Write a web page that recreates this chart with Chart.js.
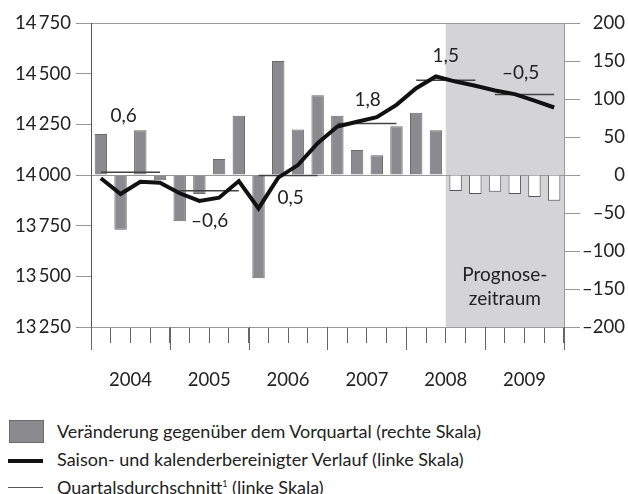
<!DOCTYPE html>
<html>
<head>
<meta charset="utf-8">
<script src="https://cdn.jsdelivr.net/npm/chart.js@4"></script>
<style>
  html, body { margin: 0; padding: 0; background: #fff; }
  #wrap { position: relative; width: 628px; height: 494px; overflow: hidden; font-family: Lato, sans-serif; color: #222; }
  #c { position: absolute; left: 0; top: 0; }
  .lg { position: absolute; left: 57px; font-size: 18px; line-height: 24px; white-space: nowrap; }
  .sw { position: absolute; }
</style>
</head>
<body>
<div id="wrap">
  <canvas id="c" width="628" height="400"></canvas>
  <div class="sw" style="left:9px;top:420px;width:33px;height:21px;background:#8b8b8f;border:1px solid #6b6b6b"></div>
  <div class="lg" style="top:419px">Veränderung gegenüber dem Vorquartal (rechte Skala)</div>
  <div class="sw" style="left:8px;top:459px;width:35px;height:4px;background:#111"></div>
  <div class="lg" style="top:447px">Saison- und kalenderbereinigter Verlauf (linke Skala)</div>
  <div class="sw" style="left:8px;top:487px;width:35px;height:1px;background:#555"></div>
  <div class="lg" style="top:472px">Quartalsdurchschnitt<sup style="font-size:9px">1</sup> (linke Skala)</div>
</div>
<script>
/* ── data ─────────────────────────────────────────────────────────────── */
const YEARS = ['2004', '2005', '2006', '2007', '2008', '2009'];
const QUARTERS = YEARS.flatMap(y => ['Q1', 'Q2', 'Q3', 'Q4'].map(q => y + ' ' + q));

// change vs. previous quarter (right scale)
const CHANGE = [54, -72, 59, -7, -61, -25, 21, 78, -136, 150, 60, 105,
                78, 33, 26, 64, 82, 59, -21, -25, -22, -25, -29, -34];

// seasonally and calendar adjusted level (left scale)
const LEVEL = [13984, 13906, 13967, 13962, 13910, 13872, 13888, 13970,
               13835, 13987, 14049, 14157, 14239, 14263, 14285, 14346,
               14428, 14486, 14461, 14440, 14417, 14399, 14367, 14333];

// yearly average of the quarters (left scale)
const YEAR_AVG = [14013, 13922, 13997, 14254, 14468, 14397];

// yearly growth rates printed into the plot
const GROWTH = ['0,6', '\u20130,6', '0,5', '1,8', '1,5', '\u20130,5'];

const FORECAST_FROM = 18;   // first forecast quarter (2008 Q3)

const LEFT_TICKS  = [13250, 13500, 13750, 14000, 14250, 14500, 14750];
const RIGHT_TICKS = [-200, -150, -100, -50, 0, 50, 100, 150, 200];

/* label anchors: fractional quarter index, left-scale value */
const GROWTH_POS = [[1.16, 14292], [5.52, 13773], [9.63, 13886],
                    [13.54, 14371], [17.5, 14588], [21.3, 14504]];

const FONT = 'Lato, sans-serif';
const INK = '#222';

const fmtLeft  = v => String(v).replace(/(\d+)(\d{3})$/, '$1\u2009$2');
const fmtRight = v => v < 0 ? '\u2013' + Math.abs(v) : String(v);

/* ── helpers ───────────────────────────────────────────────────────────── */
function qx(chart, i) {
  const xs = chart.scales.x;
  const w = xs.getPixelForValue(1) - xs.getPixelForValue(0);
  return xs.getPixelForValue(0) + i * w;
}

/* grey forecast band, drawn below grid and bars */
const bandPlugin = {
  id: 'band',
  beforeDraw(chart) {
    const ca = chart.chartArea, ctx = chart.ctx;
    const x0 = qx(chart, FORECAST_FROM - 0.5);
    ctx.save();
    ctx.fillStyle = '#d4d4d6';
    ctx.fillRect(x0, ca.top, ca.right - x0, ca.bottom - ca.top);
    ctx.restore();
  }
};

/* longer tick marks at year boundaries, growth labels, forecast caption */
const notesPlugin = {
  id: 'notes',
  afterDraw(chart) {
    const ca = chart.chartArea, ctx = chart.ctx, ys = chart.scales.y;
    ctx.save();
    ctx.strokeStyle = '#666';
    ctx.lineWidth = 1;
    for (let k = 0; k <= YEARS.length; k++) {
      const x = Math.round(qx(chart, k * 4 - 0.5)) + 0.5;
      ctx.beginPath();
      ctx.moveTo(x, ca.bottom);
      ctx.lineTo(x, ca.bottom + 23);
      ctx.stroke();
    }
    ctx.fillStyle = INK;
    ctx.font = '19px ' + FONT;
    ctx.textAlign = 'center';
    ctx.textBaseline = 'middle';
    GROWTH.forEach((t, i) => {
      const [q, v] = GROWTH_POS[i];
      ctx.fillText(t, qx(chart, q), ys.getPixelForValue(v));
    });
    const cx = (qx(chart, FORECAST_FROM - 0.5) + ca.right) / 2;
    ctx.fillText('Prognose-', cx, 275);
    ctx.fillText('zeitraum', cx, 299);
    ctx.restore();
  }
};

const avgSets = YEAR_AVG.map((v, k) => ({
  type: 'line',
  data: [{ x: QUARTERS[k * 4], y: v }, { x: QUARTERS[k * 4 + 3], y: v }],
  yAxisID: 'y',
  borderColor: '#444',
  borderWidth: 1.5,
  pointRadius: 0,
  order: 2
}));

new Chart(document.getElementById('c'), {
  data: {
    labels: QUARTERS,
    datasets: [
      {
        type: 'bar',
        data: CHANGE,
        yAxisID: 'y1',
        backgroundColor: CHANGE.map((_, i) => i < FORECAST_FROM ? '#8b8b8f' : '#ffffff'),
        borderColor: CHANGE.map((_, i) => i < FORECAST_FROM ? '#6b6b6b' : '#555'),
        borderWidth: 1,
        categoryPercentage: 1,
        barPercentage: 0.63,
        order: 3
      },
      {
        type: 'line',
        data: LEVEL,
        yAxisID: 'y',
        borderColor: '#111',
        borderWidth: 4,
        pointRadius: 0,
        tension: 0,
        order: 1
      },
      ...avgSets
    ]
  },
  options: {
    responsive: false,
    animation: false,
    devicePixelRatio: 1,
    layout: { padding: { top: 23, right: 3, left: 0, bottom: 0 } },
    plugins: { legend: { display: false }, tooltip: { enabled: false } },
    scales: {
      x: {
        type: 'category',
        offset: true,
        afterFit: s => { s.height = 73; },
        grid: { offset: true, drawOnChartArea: false, tickLength: 16, tickColor: '#666' },
        border: { color: '#999' },
        ticks: {
          autoSkip: false, maxRotation: 0, padding: 26, labelOffset: 9.85,
          color: INK, font: { family: FONT, size: 18.5 },
          callback: (v, i) => i % 4 === 1 ? YEARS[(i / 4) | 0] : ''
        }
      },
      y: {
        position: 'left',
        min: 13250, max: 14750,
        afterFit: s => { s.width = 91; },
        afterBuildTicks: s => { s.ticks = LEFT_TICKS.map(v => ({ value: v })); },
        grid: {
          tickLength: 15,
          tickColor: '#999',
          color: c => [13250, 14000, 14750].includes(c.tick && c.tick.value) ? '#999' : 'rgba(0,0,0,0)'
        },
        border: { color: '#555' },
        ticks: { padding: 5, color: INK, font: { family: FONT, size: 18.5 }, callback: fmtLeft }
      },
      y1: {
        position: 'right',
        min: -200, max: 200,
        afterFit: s => { s.width = 61; },
        afterBuildTicks: s => { s.ticks = RIGHT_TICKS.map(v => ({ value: v })); },
        grid: { drawOnChartArea: false, tickLength: 16, tickColor: '#999' },
        border: { color: '#999' },
        ticks: { padding: 0, crossAlign: 'far', color: INK, font: { family: FONT, size: 18.5 }, callback: fmtRight }
      }
    }
  },
  plugins: [bandPlugin, notesPlugin]
});
</script>
</body>
</html>
